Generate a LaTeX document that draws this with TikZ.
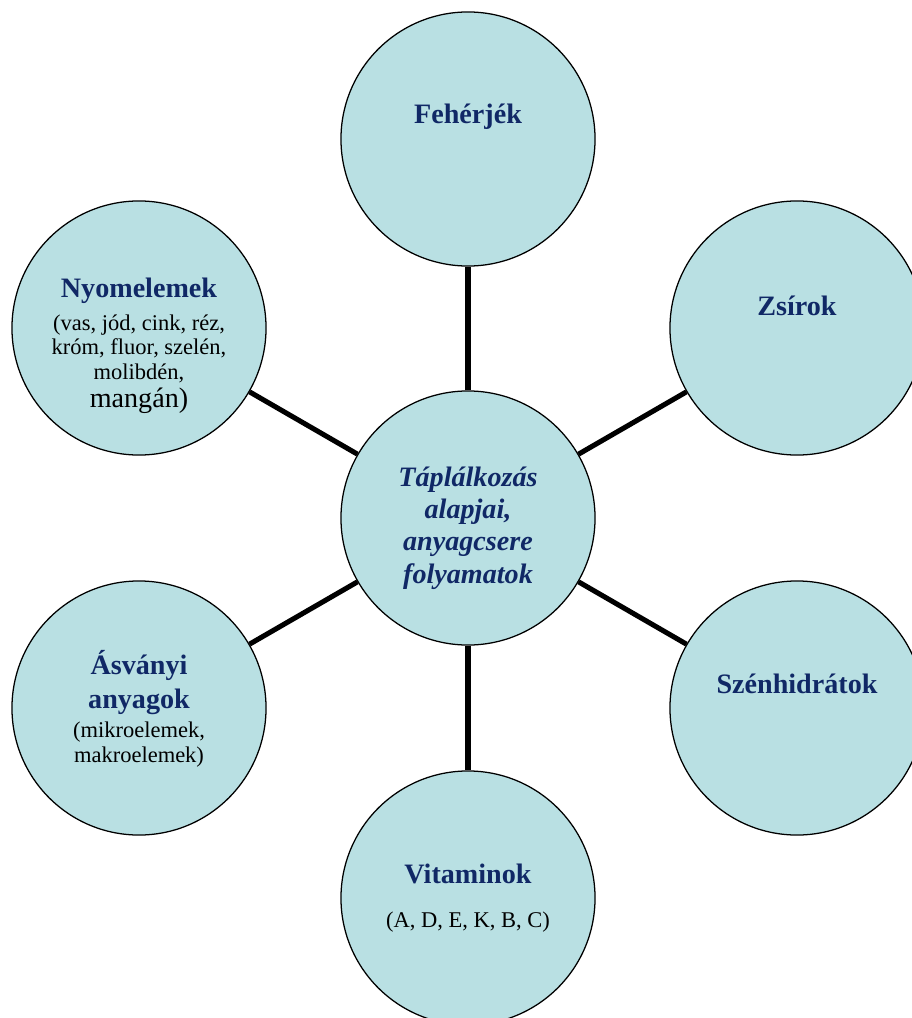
\documentclass[tikz,border=0pt]{standalone}
\usepackage{fontspec}
\setmainfont{Liberation Serif}
\definecolor{halvanykek}{RGB}{185,224,227}
\definecolor{sotetkek}{RGB}{16,40,102}

\begin{document}
\begin{tikzpicture}[x=0.025cm, y=-0.025cm,
  kor/.style={circle, draw=black, line width=0.9pt, fill=halvanykek, minimum size=6.35cm, inner sep=0pt},
  osszekoto/.style={black, line width=3.6pt},
  cim/.style={text=sotetkek, font=\fontsize{20}{23}\selectfont\bfseries, align=center, inner sep=0pt},
  megj/.style={text=black, font=\fontsize{16}{17.5}\selectfont, align=center, inner sep=0pt}]
\clip (0,0) rectangle (912,1018);
\node (kozep) at (468,518) [kor] {};
\node (fej) at (468,139) [kor] {};
\node (zsir) at (797,328) [kor] {};
\node (nyom) at (139,328) [kor] {};
\node (asv) at (139,708) [kor] {};
\node (szen) at (797,708) [kor] {};
\node (vit) at (468,898) [kor] {};
\draw[osszekoto] (kozep) -- (fej);
\draw[osszekoto] (kozep) -- (zsir);
\draw[osszekoto] (kozep) -- (szen);
\draw[osszekoto] (kozep) -- (vit);
\draw[osszekoto] (kozep) -- (asv);
\draw[osszekoto] (kozep) -- (nyom);
% szovegek (base = utolso sor alapvonala)
\node (fejT) at (468,124) [cim, anchor=base] {Fehérjék};
\node (zsirT) at (797,315) [cim, anchor=base] {Zsírok};
\node (szenT) at (797,693) [cim, anchor=base] {Szénhidrátok};
\node (kozT) at (468,583) [cim, anchor=base, font=\fontsize{20}{22.8}\selectfont\bfseries\itshape] {Táplálkozás\\alapjai,\\anyagcsere\\folyamatok};
\node (nyomT) at (139,297) [cim, anchor=base] {Nyomelemek};
\node (nyomS) at (139,407) [megj, anchor=base] {(vas, jód, cink, réz,\\króm, fluor, szelén,\\molibdén,\\[2pt]{\fontsize{20}{22}\selectfont mangán)}};
\node (asvT) at (139,708) [cim, anchor=base] {Ásványi\\[0.5pt]anyagok};
\node (asvS) at (139,762) [megj, anchor=base] {(mikroelemek,\\makroelemek)};
\node (vitT) at (468,883) [cim, anchor=base] {Vitaminok};
\node (vitS) at (468,927) [megj, anchor=base] {(A, D, E, K, B, C)};
\end{tikzpicture}
\end{document}
